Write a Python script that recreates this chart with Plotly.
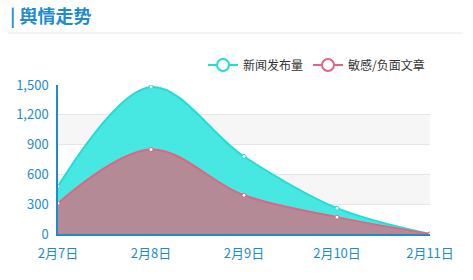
import plotly.graph_objects as go

dates = ["2月7日", "2月8日", "2月9日", "2月10日", "2月11日"]
news_counts = [480, 1480, 780, 260, 0]
negative_counts = [310, 850, 390, 170, 0]
y_ticks = [0, 300, 600, 900, 1200, 1500]

xs = list(range(len(dates)))
FONT = "Noto Sans CJK SC"
BLUE = "#1e8bd0"

fig = go.Figure()
fig.add_trace(go.Scatter(
    x=xs, y=news_counts, mode="lines+markers", name="新闻发布量",
    line=dict(color="#22dcd6", width=2, shape="spline", smoothing=1),
    marker=dict(size=4, color="white", line=dict(color="#22dcd6", width=1)),
    fill="tozeroy", fillcolor="rgba(56,230,224,0.92)", showlegend=False))
fig.add_trace(go.Scatter(
    x=xs, y=negative_counts, mode="lines+markers", name="敏感/负面文章",
    line=dict(color="#e0657f", width=2, shape="spline", smoothing=1),
    marker=dict(size=4, color="white", line=dict(color="#e0657f", width=1)),
    fill="tozeroy", fillcolor="rgb(180,138,150)", showlegend=False))
# legend entries
fig.add_trace(go.Scatter(
    x=[None], y=[None], mode="lines+markers", name="新闻发布量",
    line=dict(color="#22dcd6", width=2),
    marker=dict(size=12, color="white", line=dict(color="#22dcd6", width=2))))
fig.add_trace(go.Scatter(
    x=[None], y=[None], mode="lines+markers", name="敏感/负面文章",
    line=dict(color="#e0657f", width=2),
    marker=dict(size=12, color="white", line=dict(color="#e0657f", width=2))))

shapes = []
for lo, hi in [(300, 600), (900, 1200)]:
    shapes.append(dict(type="rect", xref="paper", yref="y", x0=0, x1=1, y0=lo, y1=hi,
                       fillcolor="#f6f6f6", line=dict(width=0), layer="below"))
shapes.append(dict(type="line", xref="paper", yref="paper", x0=-50/372, x1=(463-58)/372,
                   y0=(234-33)/149, y1=(234-33)/149, line=dict(color="#e8e8e8", width=1)))

fig.update_layout(
    width=473, height=280,
    margin=dict(l=58, r=43, t=85, b=46),
    paper_bgcolor="white", plot_bgcolor="white",
    font=dict(family=FONT, size=13, color=BLUE),
    shapes=shapes,
    showlegend=True,
    legend=dict(orientation="h", x=1.0, xanchor="right", y=(234-65)/149, yanchor="middle",
                font=dict(color="#333333", size=12), itemwidth=30, bgcolor="rgba(0,0,0,0)"),
    annotations=[dict(text="<b>| 舆情走势</b>", xref="paper", yref="paper",
                      x=-50/372, y=(234-15)/149, xanchor="left", yanchor="middle",
                      showarrow=False, font=dict(size=18, color=BLUE, family=FONT))],
    xaxis=dict(range=[0, 4], tickvals=xs, ticktext=dates, showgrid=False,
               showline=True, linecolor=BLUE, linewidth=1.5, ticks="", zeroline=False,
               ticklabelstandoff=7, tickfont=dict(color=BLUE, size=13)),
    yaxis=dict(range=[0, 1500], tickvals=y_ticks, tickformat=",", showgrid=True,
               gridcolor="#e6e6e6", gridwidth=1, showline=True, linecolor=BLUE,
               linewidth=1.5, ticks="", zeroline=False, ticklabelstandoff=5,
               tickfont=dict(color=BLUE, size=13)),
)
fig.write_html("out.html")
